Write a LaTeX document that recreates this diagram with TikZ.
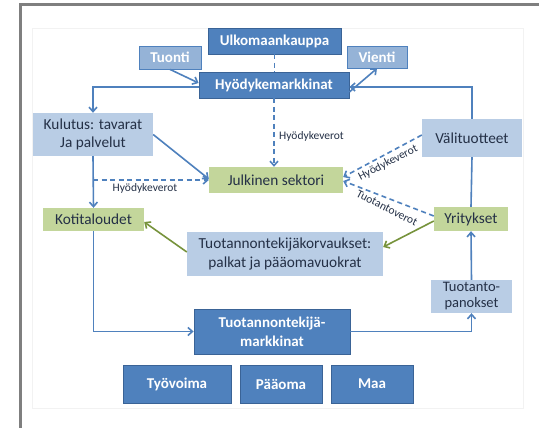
\documentclass[tikz,border=0pt]{standalone}
\usepackage{fontspec}
\setmainfont{Carlito}
\usetikzlibrary{arrows.meta}
\definecolor{dblue}{HTML}{4F81BD}
\definecolor{dborder}{HTML}{3A6396}
\definecolor{mblue}{HTML}{95B3D7}
\definecolor{lblue}{HTML}{B9CDE5}
\definecolor{lgreen}{HTML}{C3D69B}
\definecolor{gline}{HTML}{77933C}
\definecolor{txt}{HTML}{243046}
\definecolor{frame}{HTML}{7F7F7F}
\tikzset{
  darkbox/.style={draw=dborder,line width=0.8pt,fill=dblue,text=white,font=\fontsize{15}{19}\selectfont\bfseries,align=center,inner sep=1pt},
  midbox/.style={draw=dblue,line width=0.8pt,fill=mblue,text=white,font=\fontsize{15}{18}\selectfont\bfseries,align=center,inner sep=1pt},
  lightbox/.style={fill=lblue,text=txt,font=\fontsize{15.3}{18.5}\selectfont,align=center,inner sep=1pt},
  greenbox/.style={fill=lgreen,text=txt,font=\fontsize{15.3}{18.5}\selectfont,align=center,inner sep=1pt},
  lbl/.style={text=txt,font=\fontsize{11.5}{13}\selectfont,inner sep=0pt},
  bl/.style={draw=dblue,line width=1.6pt,-{Straight Barb[length=4.5pt,width=8pt]}},
  bd/.style={bl,dash pattern=on 5pt off 3.5pt},
  gl/.style={draw=gline,line width=1.6pt,-{Straight Barb[length=4.5pt,width=8pt]}}
}
\begin{document}
\begin{tikzpicture}[x=1pt,y=-1pt]
\useasboundingbox (0,0) rectangle (539,428);
\fill[white] (0,0) rectangle (539,428);
\draw[frame,line width=3pt] (20.5,428) -- (20.5,4.5) -- (539,4.5);
\draw[gray!10,line width=0.8pt] (32,28) rectangle (523,408);

\node[darkbox,minimum width=133pt,minimum height=26pt] (ulko) at (274.5,41) {Ulkomaankauppa};
\node[midbox,minimum width=62pt,minimum height=23pt] (tuonti) at (170,57.5) {Tuonti};
\node[midbox,minimum width=60pt,minimum height=22pt] (vienti) at (377,57) {Vienti};
\node[darkbox,minimum width=150pt,minimum height=26pt] (hyody) at (274,85) {Hyödykemarkkinat};
\node[lightbox,minimum width=120pt,minimum height=43pt] (kulutus) at (93,134.5) {Kulutus: tavarat\\Ja palvelut};
\node[lightbox,minimum width=100pt,minimum height=38pt] (valit) at (472,138) {Välituotteet};
\node[greenbox,minimum width=134pt,minimum height=26pt] (julk) at (276,180) {Julkinen sektori};
\node[greenbox,minimum width=101pt,minimum height=23pt] (koti) at (93.5,219.5) {Kotitaloudet};
\node[greenbox,minimum width=74pt,minimum height=24pt] (yrit) at (471,219) {Yritykset};
\node[lightbox,minimum width=196pt,minimum height=44pt] (korv) at (285,254) {Tuotannontekijäkorvaukset:\\palkat ja pääomavuokrat};
\node[lightbox,minimum width=81pt,minimum height=33pt,font=\fontsize{14.5}{16}\selectfont] (panok) at (471.5,296.5) {Tuotanto-\\panokset};
\node[darkbox,minimum width=156pt,minimum height=45pt] (tmark) at (272,331.5) {Tuotannontekijä-\\markkinat};
\node[darkbox,minimum width=108pt,minimum height=38pt] (tyo) at (177,384) {Työvoima};
\node[darkbox,minimum width=82pt,minimum height=38pt] (paa) at (281,384) {Pääoma};
\node[darkbox,minimum width=82pt,minimum height=38pt] (maa) at (372,384) {Maa};

% top connectors
\draw[bd,-] (ulko.south) -- (ulko.south |- hyody.north);
\draw[bl] (tuonti.south) -- ([yshift=2pt]hyody.west);
\draw[bl] ([yshift=-7pt]hyody.east) -- (vienti.south);
\draw[bl] ([yshift=-2pt]hyody.west) -| (kulutus.north);
\draw[bl] (valit.north) |- ([yshift=-2pt]hyody.east);
\draw[bd] (hyody.south) -- (hyody.south |- julk.north);
\node[lbl,anchor=west] (l1) at (279,136) {Hyödykeverot};

% left side
\draw[bl] (kulutus.south) -- (koti.north);
\draw[bl] (kulutus.east) -- ([yshift=1pt]julk.west);
\draw[bd] (kulutus.south |- julk.west) -- (julk.west);
\node[lbl] (l2) at (145,188) {Hyödykeverot};

% right side
\draw[bd] ([yshift=3pt]valit.west) -- ([yshift=3pt]julk.east);
\draw[bd] ([yshift=3pt]yrit.west) -- ([yshift=-1pt]julk.east);
\node[lbl,rotate=27] (l3) at (388,163) {Hyödykeverot};
\node[lbl,rotate=-27] (l4) at (387,208) {Tuotantoverot};
\draw[draw=dblue,line width=1.6pt] (yrit.north) -- (valit.south);

% green
\draw[gl] ([yshift=-2pt]yrit.west) -- ([yshift=7pt]korv.east);
\draw[gl] ([yshift=2pt]korv.west) -- ([yshift=-2.5pt]koti.east);

% bottom loop
\draw[bl] (koti.south) |- (tmark.west);
\draw[bl] (tmark.east) -| (panok.south);
\draw[bl] (panok.north) -- (yrit.south);
\end{tikzpicture}
\end{document}
